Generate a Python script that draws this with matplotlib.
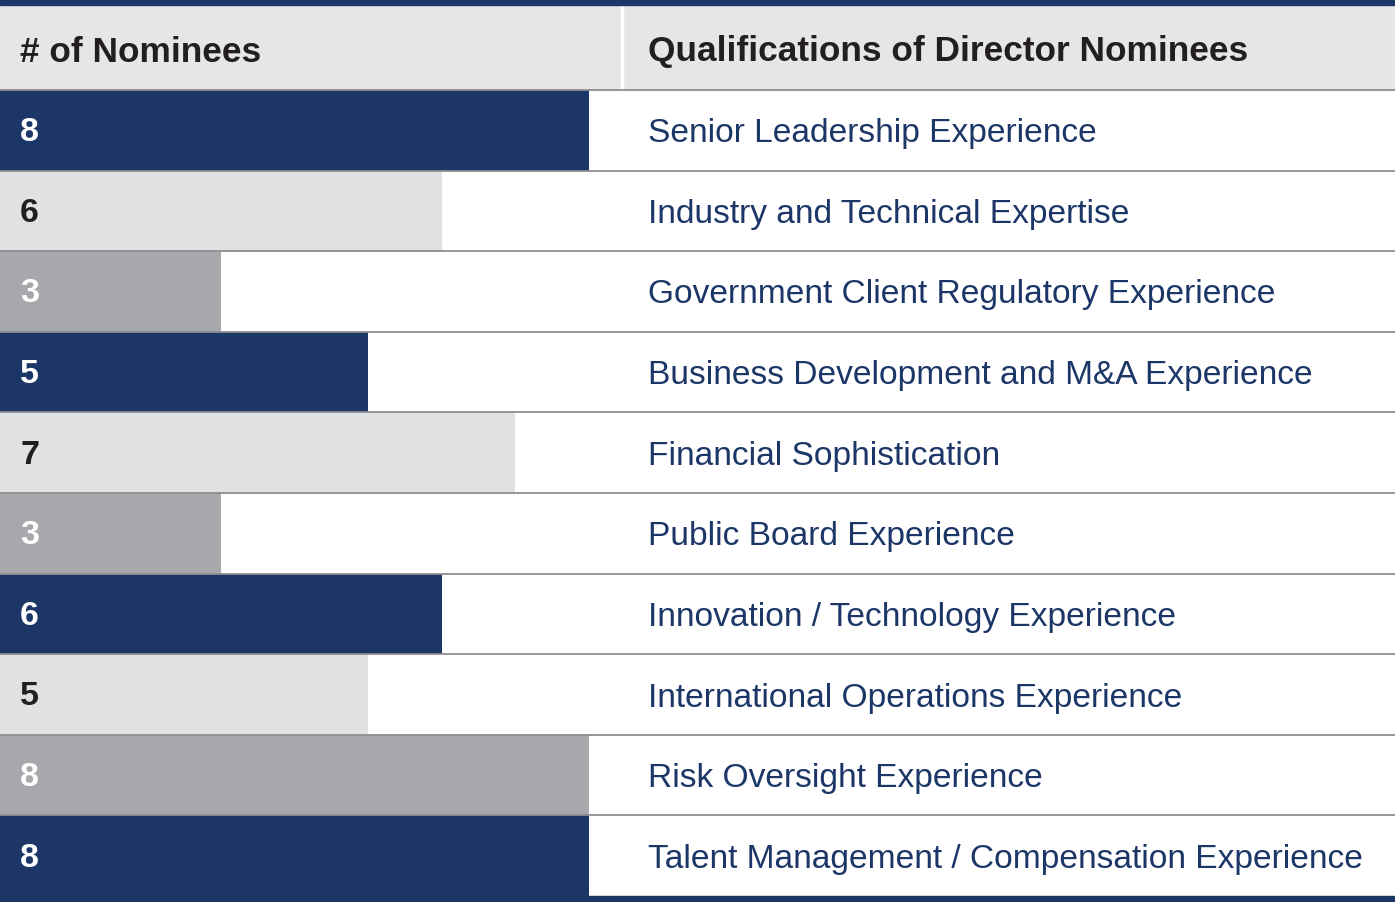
import matplotlib
matplotlib.use("Agg")
import matplotlib.pyplot as plt
import numpy as np

plt.rcParams['font.family'] = ['Liberation Sans', 'DejaVu Sans']

header_left = "# of Nominees"
header_right = "Qualifications of Director Nominees"
categories = [
    "Senior Leadership Experience",
    "Industry and Technical Expertise",
    "Government Client Regulatory Experience",
    "Business Development and M&A Experience",
    "Financial Sophistication",
    "Public Board Experience",
    "Innovation / Technology Experience",
    "International Operations Experience",
    "Risk Oversight Experience",
    "Talent Management / Compensation Experience",
]
values = [8, 6, 3, 5, 7, 3, 6, 5, 8, 8]

NAVY = "#1C3767"
LIGHT = "#E0E1E3"
MID = "#A7A8AB"
HEADER_BG = "#E6E6E8"
DARK = "#231F20"
palette = [NAVY, LIGHT, MID]
bar_colors = [palette[i % 3] for i in range(len(values))]
num_colors = ["white" if c != LIGHT else DARK for c in bar_colors]

W, H = 1395, 903
ROW_PX = 80.6
UNIT_PX = 73.6
HEADER_TOP_PX = 6
HEADER_BOT_PX = 91
BAND_PX = 6

fig = plt.figure(figsize=(W / 100, H / 100), dpi=100)
ax = fig.add_axes([0, 0, 1, 1])
n = len(values)
xmax = W / UNIT_PX
ytop = -HEADER_BOT_PX / ROW_PX
ybot = n + BAND_PX / ROW_PX
ax.set_xlim(0, xmax)
ax.set_ylim(ybot, ytop)
ax.axis("off")

# header background and top band
ax.axhspan(ytop + HEADER_TOP_PX / ROW_PX, 0, color=HEADER_BG, zorder=0)
ax.axhspan(ytop, ytop + HEADER_TOP_PX / ROW_PX, color=NAVY, zorder=3)
ax.axhspan(n, ybot, color=NAVY, zorder=3)
sep_x = 622 / UNIT_PX
ax.plot([sep_x, sep_x], [ytop + HEADER_TOP_PX / ROW_PX, 0], color="white", lw=2.5, zorder=2)

# bars
ypos = np.arange(n) + 0.5
ax.barh(ypos, values, height=1.0, color=bar_colors, zorder=1, linewidth=0)

# row separators
for i in range(n):
    ax.axhline(i, color="#8E8E90", lw=1.3, zorder=2)

# header text
hy = (52 - HEADER_BOT_PX) / ROW_PX
ax.text(20 / UNIT_PX, hy, header_left, fontsize=25.4, fontweight="bold", color=DARK,
        va="center", ha="left", zorder=4)
ax.text(648 / UNIT_PX, hy, header_right, fontsize=25.4, fontweight="bold", color=DARK,
        va="center", ha="left", zorder=4)

dnum = 1.5 / ROW_PX
dlab = 2.5 / ROW_PX
for y, v, cat, tc in zip(ypos, values, categories, num_colors):
    ax.text(20 / UNIT_PX, y + dnum, str(v), fontsize=24.5, fontweight="bold", color=tc,
            va="center", ha="left", zorder=4)
    ax.text(648 / UNIT_PX, y + dlab, cat, fontsize=24.1, color=NAVY,
            va="center", ha="left", zorder=4)

fig.savefig("out.png", dpi=100)
